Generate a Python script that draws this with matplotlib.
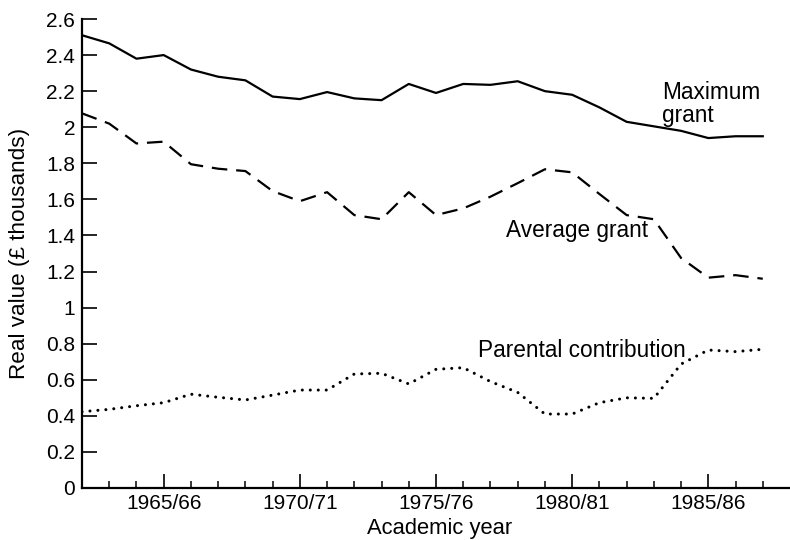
import matplotlib
matplotlib.use('Agg')
import matplotlib.pyplot as plt

plt.rcParams['font.family'] = ['Liberation Sans', 'DejaVu Sans']

# academic years, 1962/63 .. 1987/88 (start year)
years = list(range(1962, 1988))

# real value, £ thousands
max_grant = [2.51, 2.465, 2.38, 2.40, 2.32, 2.28, 2.26, 2.17, 2.156, 2.195,
             2.16, 2.15, 2.24, 2.19, 2.24, 2.235, 2.255, 2.20, 2.18, 2.11,
             2.03, 2.005, 1.98, 1.94, 1.95, 1.95]
avg_grant = [2.077, 2.02, 1.91, 1.92, 1.795, 1.77, 1.757, 1.646, 1.59, 1.64,
             1.513, 1.49, 1.64, 1.513, 1.55, 1.615, 1.69, 1.767, 1.75, 1.63,
             1.513, 1.49, 1.275, 1.166, 1.18, 1.16]
parental = [0.423, 0.436, 0.456, 0.473, 0.52, 0.503, 0.488, 0.515, 0.543, 0.543,
            0.632, 0.636, 0.577, 0.658, 0.667, 0.59, 0.53, 0.41, 0.41, 0.473,
            0.50, 0.497, 0.687, 0.765, 0.756, 0.769]

major_years = [1965, 1970, 1975, 1980, 1985]
major_labels = ['1965/66', '1970/71', '1975/76', '1980/81', '1985/86']
y_ticks = [0, 0.2, 0.4, 0.6, 0.8, 1, 1.2, 1.4, 1.6, 1.8, 2, 2.2, 2.4, 2.6]
y_labels = ['0', '0.2', '0.4', '0.6', '0.8', '1', '1.2', '1.4', '1.6', '1.8',
            '2', '2.2', '2.4', '2.6']

fig = plt.figure(figsize=(7.9, 5.4), dpi=100)
ax = fig.add_axes([0.1038, 0.0963, 0.8962, 0.8685])

ax.plot(years, max_grant, color='black', lw=1.6, solid_joinstyle='round')
ax.plot(years, avg_grant, color='black', lw=1.6, dashes=(7, 4))
ax.plot(years, parental, color='black', lw=2.2, dashes=(0.01, 2.6),
        dash_capstyle='round')

ax.set_xlim(1962, 1988)
ax.set_ylim(0, 2.6)

ax.spines['top'].set_visible(False)
ax.spines['right'].set_visible(False)
ax.spines['left'].set_linewidth(1.6)
ax.spines['bottom'].set_linewidth(1.6)

ax.set_yticks(y_ticks)
ax.set_yticklabels(y_labels)
ax.set_xticks(major_years)
ax.set_xticklabels(major_labels)
ax.set_xticks(years[1:], minor=True)
ax.tick_params(axis='y', direction='in', length=11, width=1.2, pad=5,
               labelsize=15)
ax.tick_params(axis='x', which='major', direction='in', length=10, width=1.2,
               pad=4, labelsize=15)
ax.tick_params(axis='x', which='minor', direction='in', length=5, width=1.1)

ax.set_ylabel('Real value (£ thousands)', fontsize=16.2)
ax.yaxis.set_label_coords(-0.073, 0.5)
ax.set_xlabel('Academic year', fontsize=15.8, va='top')
ax.xaxis.set_label_coords(0.505, -0.064)

ax.text(1983.3, 2.256, 'Maximum\ngrant', fontsize=16.3, ha='left', va='top',
        linespacing=1.0)
ax.text(1977.58, 1.425, 'Average grant', fontsize=16.3, ha='left', va='center')
ax.text(1976.56, 0.765, 'Parental contribution', fontsize=16.3, ha='left',
        va='center')

fig.savefig('out.png', dpi=100)
